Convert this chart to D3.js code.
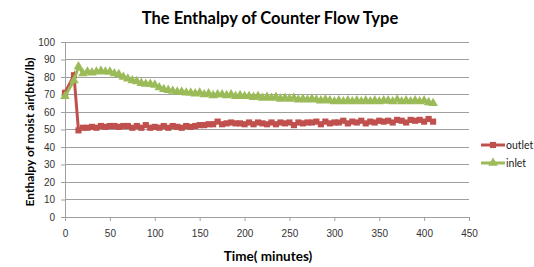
<!DOCTYPE html>
<html>
<head>
<meta charset="utf-8">
<script src="https://cdn.jsdelivr.net/npm/d3@7"></script>
<style>
body { margin: 0; background: #fff; }
svg { font-family: Lato, "Open Sans", sans-serif; }
.tick text { font-size: 10px; fill: #333; }
</style>
</head>
<body>
<div class="container"></div>
<script>
var WIDTH = 534,
	HEIGHT = 267,
	LEFT = 65,
	RIGHT = 469,
	TOP = 42,
	BOTTOM = 217;

var times = [0,10,15,20,25,30,35,40,45,50,55,60,65,70,75,80,85,90,95,100,
	105,110,115,120,125,130,135,140,145,150,155,160,165,170,175,180,185,190,195,200,
	205,210,215,220,225,230,235,240,245,250,255,260,265,270,275,280,285,290,295,300,
	305,310,315,320,325,330,335,340,345,350,355,360,365,370,375,380,385,390,395,400,405,410];

var outlet = [71,81,49.5,51,51,51.5,51,52,51.5,52,52,51.5,52,52,51,52,51,52.5,51,51.5,
	51,52,51,52,51.5,51,52,51.5,52,52.5,52.5,53,53,54.5,53,53.5,54,53.5,53.5,53,
	54,53,54,53.5,53,54,53,54,53.5,54,52.5,54,53.5,54,54,54.5,53,54.5,53.5,54,
	54,55,53.5,54.5,54,55,53.5,54.5,54,55,54.5,55,54,55.5,55,54,55.5,55,55.5,54.5,56,54.5];

var inlet = [69,78,86,82,83,82.5,83,83.5,83,83,82,81.5,80,79,78,77.5,76.5,76,76,75.5,
	74,73,72.5,72,71.5,71.5,71,71,70.5,71,70,70.5,69.5,70,70,69.5,70,69,69.5,69,
	69,68.5,69,68,68.5,68,68.5,67.5,68,67.5,68,67,67.5,67,67.5,67,66.5,67,66.5,66,
	66.5,66,66.5,66,66.5,66,66.5,66,66.5,66,66.5,66.5,66,67,66,66.5,66,66.5,66,66.5,65.5,65];

var xTicks = [0,50,100,150,200,250,300,350,400,450];
var yTicks = [0,10,20,30,40,50,60,70,80,90,100];

var series = [
	{name: 'outlet', values: outlet, color: '#C0504D', marker: d3.symbolSquare, size: 38},
	{name: 'inlet', values: inlet, color: '#9BBB59', marker: d3.symbolTriangle, size: 40}
];

var svg = d3.select('.container').append('svg')
	.attr('width', WIDTH)
	.attr('height', HEIGHT);

var xScale = d3.scaleLinear().domain([0,450]).range([LEFT, RIGHT]);
var yScale = d3.scaleLinear().domain([0,100]).range([BOTTOM, TOP]);

// gridlines
svg.append('g').selectAll('line')
	.data(yTicks.slice(1)).enter()
	.append('line')
	.attr('x1', LEFT).attr('x2', RIGHT)
	.attr('y1', function(d) {return yScale(d)})
	.attr('y2', function(d) {return yScale(d)})
	.attr('stroke', '#a0a0a0')
	.attr('stroke-width', 1)
	.attr('shape-rendering', 'crispEdges');

var xAxis = d3.axisBottom(xScale).tickValues(xTicks).tickSize(4).tickSizeOuter(0);
var yAxis = d3.axisLeft(yScale).tickValues(yTicks).tickSize(4).tickSizeOuter(0);

var xg = svg.append('g')
	.attr('transform', 'translate(0,' + BOTTOM + ')')
	.call(xAxis);
xg.select('.domain').attr('stroke', '#a0a0a0');
xg.selectAll('.tick line').attr('stroke', '#a0a0a0');
xg.selectAll('.tick text').attr('dy', '1.3em');

var yg = svg.append('g')
	.attr('transform', 'translate(' + LEFT + ',0)')
	.call(yAxis);
yg.select('.domain').attr('stroke', '#a0a0a0');
yg.selectAll('.tick line').attr('stroke', '#a0a0a0');
yg.selectAll('.tick text').attr('dx', '-0.3em');

var line = d3.line()
	.x(function(d, i) {return xScale(times[i])})
	.y(function(d) {return yScale(d)});

series.forEach(function(s) {
	var g = svg.append('g');
	g.append('path')
		.datum(s.values)
		.attr('fill', 'none')
		.attr('stroke', s.color)
		.attr('stroke-width', 3)
		.attr('d', line);
	g.selectAll('path.mk')
		.data(s.values).enter()
		.append('path')
		.attr('class', 'mk')
		.attr('transform', function(d, i) {return 'translate(' + xScale(times[i]) + ',' + yScale(d) + ')'})
		.attr('d', d3.symbol().type(s.marker).size(s.size))
		.attr('fill', s.color);
});

// legend
var legend = svg.append('g').attr('transform', 'translate(481,145)');
series.forEach(function(s, i) {
	var row = legend.append('g').attr('transform', 'translate(0,' + (i * 18) + ')');
	row.append('line').attr('x1', 0).attr('x2', 24)
		.attr('stroke', s.color).attr('stroke-width', 3);
	row.append('path').attr('transform', 'translate(12,0)')
		.attr('d', d3.symbol().type(s.marker).size(s.size))
		.attr('fill', s.color);
	row.append('text').attr('x', 25).attr('y', 4)
		.attr('font-size', 10.5).attr('fill', '#222')
		.text(s.name);
});

svg.append('text')
	.attr('x', 270).attr('y', 24)
	.attr('text-anchor', 'middle')
	.attr('font-size', 16.5).attr('font-weight', 'bold')
	.text('The Enthalpy of Counter Flow Type');

svg.append('text')
	.attr('x', 268).attr('y', 261)
	.attr('text-anchor', 'middle')
	.attr('font-size', 13.5).attr('font-weight', 'bold')
	.text('Time( minutes)');

svg.append('text')
	.attr('transform', 'translate(34,132) rotate(-90)')
	.attr('text-anchor', 'middle')
	.attr('font-size', 12).attr('font-weight', 'bold')
	.text('Enthalpy of moist air(btu/lb)');
</script>
</body>
</html>
